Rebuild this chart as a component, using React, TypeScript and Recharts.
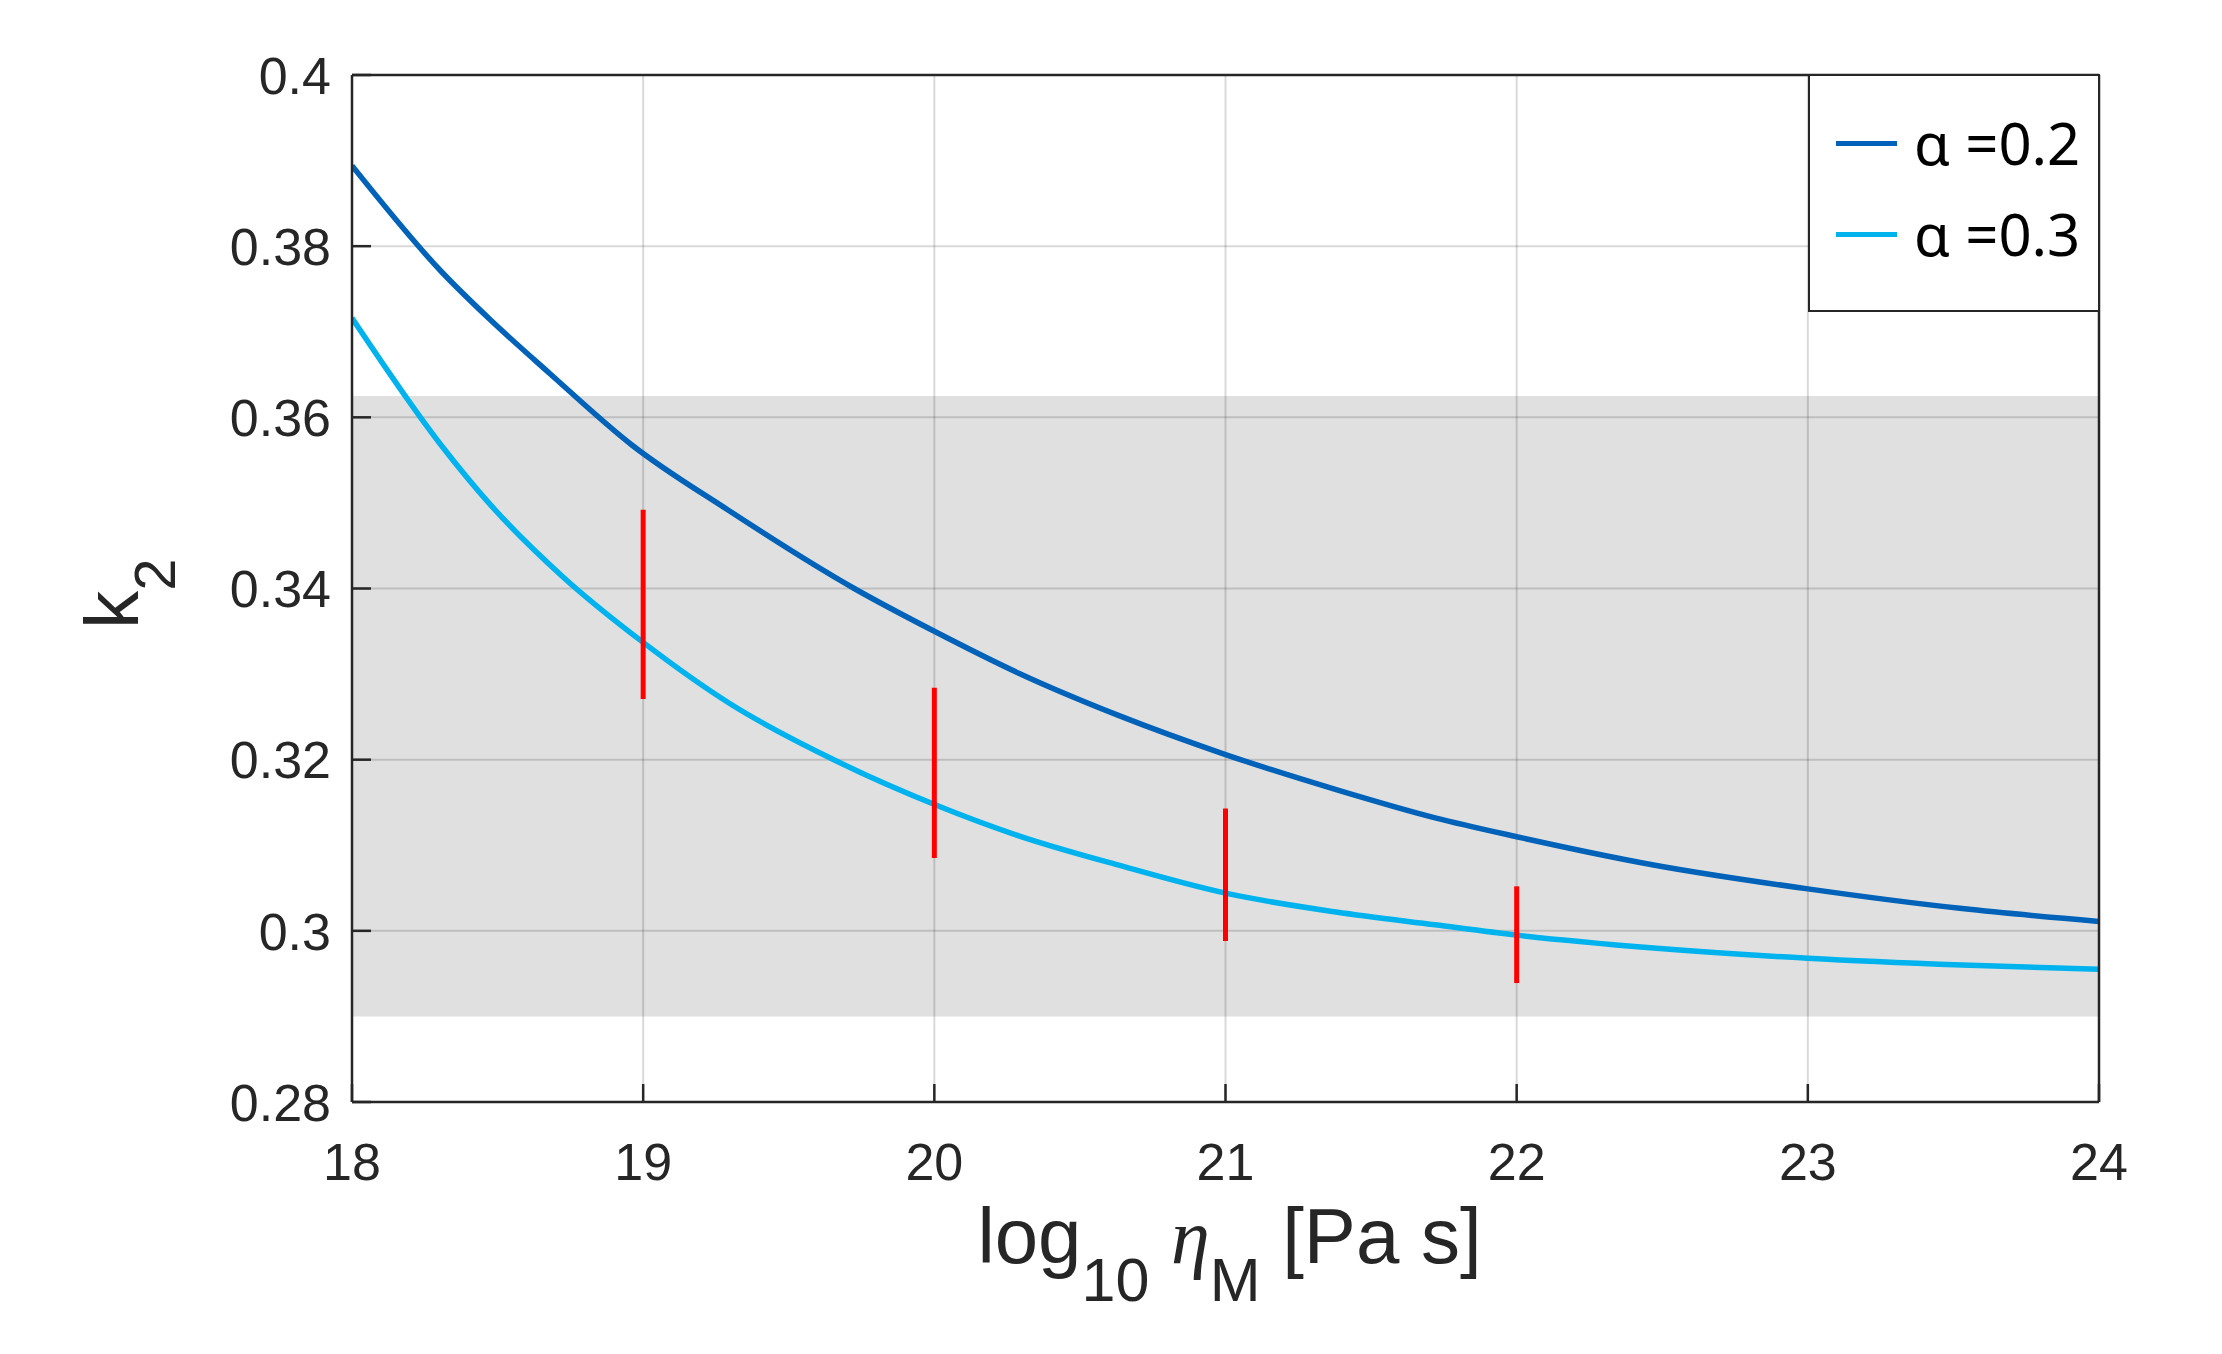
import React from "react"
import { LineChart, Line, XAxis, YAxis, ReferenceArea, ReferenceLine, Legend } from "recharts"

// alpha = 0.2 curve: log10 viscosity (Pa s) and k2
const etaA02 = [18, 18.305, 18.475, 18.68, 18.96, 19.29, 19.725, 20, 20.29, 20.63, 21, 21.38, 21.72, 22, 22.47, 23, 23.53, 24]
const k2A02 = [
  0.3894, 0.3771, 0.3714, 0.3651, 0.3568, 0.3492, 0.34, 0.335, 0.3301, 0.3252, 0.3206, 0.3165, 0.3132, 0.311,
  0.3077, 0.3049, 0.3026, 0.3011,
]

// alpha = 0.3 curve
const etaA03 = [18, 18.305, 18.475, 18.72, 19, 19.3, 19.66, 20.02, 20.29, 20.63, 21, 21.38, 21.72, 22, 22.47, 23, 23.53, 24]
const k2A03 = [
  0.3716, 0.3568, 0.3498, 0.3415, 0.3337, 0.3265, 0.3199, 0.3145, 0.3111, 0.3077, 0.3044, 0.3022, 0.3007, 0.2995,
  0.298, 0.2968, 0.296, 0.2955,
]

// red error bars
const barEta = [19, 20, 21, 22]
const barLow = [0.3271, 0.3085, 0.2988, 0.2939]
const barHigh = [0.3492, 0.3284, 0.3143, 0.3052]

// observed k2 range (grey band)
const bandLow = 0.29
const bandHigh = 0.3625

const xTicks = [18, 19, 20, 21, 22, 23, 24]
const yTicks = [0.28, 0.3, 0.32, 0.34, 0.36, 0.38, 0.4]

const dataA02 = etaA02.map((x, i) => ({ x, k: k2A02[i] }))
const dataA03 = etaA03.map((x, i) => ({ x, k: k2A03[i] }))

const INK = "#262626"
const SANS = "'Liberation Sans', Arial, Helvetica, sans-serif"
const fmt = (v: number) => String(+v.toFixed(2))

const LeftTick = ({ x, y, payload }: any) => (
  <g>
    <line x1={x} x2={x + 19} y1={y} y2={y} stroke={INK} strokeWidth={2.5} />
    <text x={x - 21} y={y} dy="0.36em" textAnchor="end" fontSize={52} fontFamily={SANS} fill={INK}>
      {fmt(payload.value)}
    </text>
  </g>
)

const RightTick = ({ x, y }: any) => (
  <line x1={x} x2={x - 19} y1={y} y2={y} stroke={INK} strokeWidth={2.5} />
)

const BottomTick = ({ x, y, payload }: any) => (
  <g>
    <line x1={x} x2={x} y1={y} y2={y - 18} stroke={INK} strokeWidth={2.5} />
    <text x={x} y={y + 78} textAnchor="middle" fontSize={52} fontFamily={SANS} fill={INK}>
      {payload.value}
    </text>
  </g>
)

const TopTick = ({ x, y }: any) => (
  <line x1={x} x2={x} y1={y} y2={y + 18} stroke={INK} strokeWidth={2.5} />
)

const XTitle = ({ viewBox }: any) => {
  const cx = viewBox.x + viewBox.width / 2 + 4
  const base = viewBox.y + 161
  return (
    <text x={cx} y={base} textAnchor="middle" fontSize={78} fontFamily={SANS} fill={INK}>
      <tspan>log</tspan>
      <tspan dy={38} fontSize={61}>10</tspan>
      <tspan dy={-38}> </tspan>
      <tspan fontFamily="'Liberation Serif', 'DejaVu Serif', serif" fontStyle="italic">η</tspan>
      <tspan dy={38} fontSize={61}>M</tspan>
      <tspan dy={-38}> [Pa s]</tspan>
    </text>
  )
}

const YTitle = ({ viewBox }: any) => {
  const cx = 138
  const cy = viewBox.y + viewBox.height / 2 + 5
  return (
    <text
      x={cx}
      y={cy}
      transform={`rotate(-90 ${cx} ${cy})`}
      textAnchor="middle"
      fontSize={76}
      fontFamily={SANS}
      fill={INK}
    >
      <tspan>k</tspan>
      <tspan dy={37} fontSize={58}>2</tspan>
    </text>
  )
}

const LegendBox = ({ payload }: any) => (
  <div
    style={{
      position: "relative",
      width: 292,
      height: 238,
      boxSizing: "border-box",
      border: `2.5px solid ${INK}`,
      background: "#fff",
    }}
  >
    {(payload || []).map((p: any, i: number) => (
      <div
        key={p.value}
        style={{
          position: "absolute",
          left: 26,
          top: 32 + i * 91,
          height: 70,
          display: "flex",
          alignItems: "center",
        }}
      >
        <div style={{ width: 61, height: 5, background: p.color, marginRight: 17 }} />
        <span style={{ fontSize: 58, lineHeight: 1, fontFamily: "'Noto Sans', sans-serif", color: "#000" }}>
          {p.value}
        </span>
      </div>
    ))}
  </div>
)

export default function App() {
  return (
    <div style={{ position: "absolute", left: 0, top: 0, background: "#fff" }}>
      <LineChart width={2222} height={1354} margin={{ top: 0, right: 0, bottom: 0, left: 0 }}>
        <XAxis
          dataKey="x"
          type="number"
          domain={[18, 24]}
          ticks={xTicks}
          allowDataOverflow
          height={252}
          tickSize={0}
          tickMargin={0}
          tickLine={false}
          axisLine={{ stroke: INK, strokeWidth: 2.5 }}
          tick={<BottomTick />}
          label={{ content: <XTitle /> }}
        />
        <XAxis
          xAxisId="t"
          orientation="top"
          dataKey="x"
          type="number"
          domain={[18, 24]}
          ticks={xTicks}
          height={75}
          tickSize={0}
          tickMargin={0}
          tickLine={false}
          axisLine={{ stroke: INK, strokeWidth: 2.5 }}
          tick={<TopTick />}
        />
        <YAxis
          type="number"
          domain={[0.28, 0.4]}
          ticks={yTicks}
          allowDataOverflow
          width={352}
          tickSize={0}
          tickMargin={0}
          tickLine={false}
          axisLine={{ stroke: INK, strokeWidth: 2.5 }}
          tick={<LeftTick />}
          label={{ content: <YTitle /> }}
        />
        <YAxis
          yAxisId="r"
          orientation="right"
          type="number"
          domain={[0.28, 0.4]}
          ticks={yTicks}
          width={123}
          tickSize={0}
          tickMargin={0}
          tickLine={false}
          axisLine={{ stroke: INK, strokeWidth: 2.5 }}
          tick={<RightTick />}
        />
        <ReferenceArea y1={bandLow} y2={bandHigh} fill="#e0e0e0" fillOpacity={1} stroke="none" />
        {xTicks.slice(1, -1).map((v) => (
          <ReferenceLine key={"gx" + v} x={v} stroke="#000" strokeOpacity={0.15} strokeWidth={2} />
        ))}
        {yTicks.slice(1, -1).map((v) => (
          <ReferenceLine key={"gy" + v} y={v} stroke="#000" strokeOpacity={0.15} strokeWidth={2} />
        ))}
        <Line
          data={dataA02}
          dataKey="k"
          name="α =0.2"
          type="monotone"
          stroke="#0062b8"
          strokeWidth={5.5}
          dot={false}
          activeDot={false}
          isAnimationActive={false}
        />
        <Line
          data={dataA03}
          dataKey="k"
          name="α =0.3"
          type="monotone"
          stroke="#00b2ee"
          strokeWidth={5.5}
          dot={false}
          activeDot={false}
          isAnimationActive={false}
        />
        {barEta.map((x, i) => (
          <ReferenceLine
            key={"bar" + x}
            segment={[
              { x, y: barLow[i] },
              { x, y: barHigh[i] },
            ]}
            stroke="#ff0000"
            strokeWidth={5}
          />
        ))}
        <Legend
          layout="horizontal"
          verticalAlign="middle"
          align="center"
          content={<LegendBox />}
          wrapperStyle={{ left: 1808, top: 74, width: 292, height: 238 }}
        />
      </LineChart>
    </div>
  )
}
